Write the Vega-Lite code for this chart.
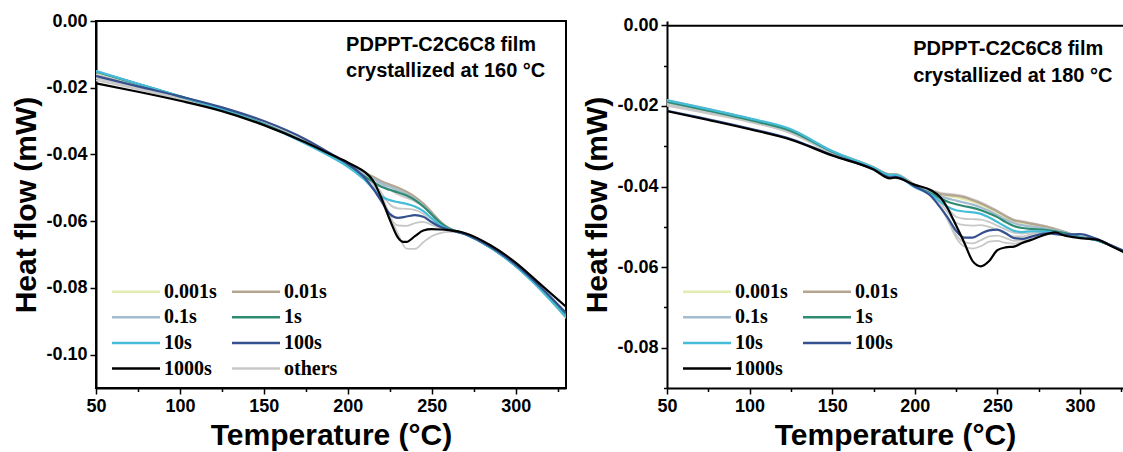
{
"$schema":"https://vega.github.io/schema/vega-lite/v6.json",
"padding":{"left":10,"top":11,"right":0,"bottom":0},
"autosize":{"type":"pad"},
"background":"white",
"config":{"font":"Liberation Sans","view":{"stroke":null},
 "axis":{"domainColor":"black","domainWidth":2,"tickColor":"black","tickWidth":1.5,"labelFont":"Liberation Sans","labelFontWeight":"bold","labelFontSize":18,"labelColor":"black","labelFlush":false,"labelOverlap":false,"titleFont":"Liberation Sans","titleFontWeight":"bold","titleFontSize":30,"titleColor":"black","grid":false,"labelPadding":3}},
"spacing":15,
"resolve":{"scale":{"color":"independent","x":"independent","y":"independent"},"legend":{"color":"independent"}},
"datasets":{
"N":[
{"p":"L","T":199,"H":-0.0073,"t":"PDPPT-C2C6C8 film"},
{"p":"L","T":199,"H":-0.0150,"t":"crystallized at 160 °C"},
{"p":"R","T":199,"H":-0.0058,"t":"PDPPT-C2C6C8 film"},
{"p":"R","T":199,"H":-0.0125,"t":"crystallized at 180 °C"}
],
"L":[
{"s":"others","c":"g1","T":50,"H":-0.0160},{"s":"others","c":"g1","T":75,"H":-0.0195},{"s":"others","c":"g1","T":100,"H":-0.0230},{"s":"others","c":"g1","T":125,"H":-0.0267},{"s":"others","c":"g1","T":150,"H":-0.0310},{"s":"others","c":"g1","T":175,"H":-0.0363},{"s":"others","c":"g1","T":190,"H":-0.0401},{"s":"others","c":"g1","T":200,"H":-0.0428},{"s":"others","c":"g1","T":205,"H":-0.0442},{"s":"others","c":"g1","T":210,"H":-0.0457},{"s":"others","c":"g1","T":215,"H":-0.0472},{"s":"others","c":"g1","T":220,"H":-0.0490},{"s":"others","c":"g1","T":225,"H":-0.0506},{"s":"others","c":"g1","T":230,"H":-0.0520},{"s":"others","c":"g1","T":235,"H":-0.0530},{"s":"others","c":"g1","T":240,"H":-0.0541},{"s":"others","c":"g1","T":245,"H":-0.0557},{"s":"others","c":"g1","T":250,"H":-0.0581},{"s":"others","c":"g1","T":255,"H":-0.0605},{"s":"others","c":"g1","T":260,"H":-0.0622},{"s":"others","c":"g1","T":270,"H":-0.0638},{"s":"others","c":"g1","T":285,"H":-0.0679},{"s":"others","c":"g1","T":300,"H":-0.0734},{"s":"others","c":"g1","T":315,"H":-0.0805},{"s":"others","c":"g1","T":330,"H":-0.0887},
{"s":"others","c":"g2","T":50,"H":-0.0168},{"s":"others","c":"g2","T":75,"H":-0.0200},{"s":"others","c":"g2","T":100,"H":-0.0233},{"s":"others","c":"g2","T":125,"H":-0.0268},{"s":"others","c":"g2","T":150,"H":-0.0310},{"s":"others","c":"g2","T":175,"H":-0.0363},{"s":"others","c":"g2","T":190,"H":-0.0401},{"s":"others","c":"g2","T":200,"H":-0.0428},{"s":"others","c":"g2","T":205,"H":-0.0443},{"s":"others","c":"g2","T":210,"H":-0.0460},{"s":"others","c":"g2","T":215,"H":-0.0482},{"s":"others","c":"g2","T":220,"H":-0.0515},{"s":"others","c":"g2","T":225,"H":-0.0550},{"s":"others","c":"g2","T":230,"H":-0.0562},{"s":"others","c":"g2","T":235,"H":-0.0563},{"s":"others","c":"g2","T":240,"H":-0.0566},{"s":"others","c":"g2","T":245,"H":-0.0578},{"s":"others","c":"g2","T":250,"H":-0.0598},{"s":"others","c":"g2","T":255,"H":-0.0614},{"s":"others","c":"g2","T":260,"H":-0.0624},{"s":"others","c":"g2","T":270,"H":-0.0639},{"s":"others","c":"g2","T":285,"H":-0.0679},{"s":"others","c":"g2","T":300,"H":-0.0734},{"s":"others","c":"g2","T":315,"H":-0.0805},{"s":"others","c":"g2","T":330,"H":-0.0887},
{"s":"others","c":"g3","T":50,"H":-0.0172},{"s":"others","c":"g3","T":75,"H":-0.0202},{"s":"others","c":"g3","T":100,"H":-0.0234},{"s":"others","c":"g3","T":125,"H":-0.0268},{"s":"others","c":"g3","T":150,"H":-0.0311},{"s":"others","c":"g3","T":175,"H":-0.0364},{"s":"others","c":"g3","T":190,"H":-0.0401},{"s":"others","c":"g3","T":200,"H":-0.0427},{"s":"others","c":"g3","T":205,"H":-0.0442},{"s":"others","c":"g3","T":210,"H":-0.0462},{"s":"others","c":"g3","T":215,"H":-0.0490},{"s":"others","c":"g3","T":220,"H":-0.0540},{"s":"others","c":"g3","T":225,"H":-0.0590},{"s":"others","c":"g3","T":230,"H":-0.0613},{"s":"others","c":"g3","T":235,"H":-0.0614},{"s":"others","c":"g3","T":240,"H":-0.0606},{"s":"others","c":"g3","T":245,"H":-0.0602},{"s":"others","c":"g3","T":250,"H":-0.0611},{"s":"others","c":"g3","T":255,"H":-0.0620},{"s":"others","c":"g3","T":260,"H":-0.0626},{"s":"others","c":"g3","T":270,"H":-0.0639},{"s":"others","c":"g3","T":285,"H":-0.0679},{"s":"others","c":"g3","T":300,"H":-0.0734},{"s":"others","c":"g3","T":315,"H":-0.0805},{"s":"others","c":"g3","T":330,"H":-0.0887},
{"s":"others","c":"g4","T":50,"H":-0.0178},{"s":"others","c":"g4","T":75,"H":-0.0205},{"s":"others","c":"g4","T":100,"H":-0.0235},{"s":"others","c":"g4","T":125,"H":-0.0269},{"s":"others","c":"g4","T":150,"H":-0.0311},{"s":"others","c":"g4","T":175,"H":-0.0364},{"s":"others","c":"g4","T":190,"H":-0.0401},{"s":"others","c":"g4","T":200,"H":-0.0426},{"s":"others","c":"g4","T":205,"H":-0.0439},{"s":"others","c":"g4","T":210,"H":-0.0454},{"s":"others","c":"g4","T":215,"H":-0.0478},{"s":"others","c":"g4","T":220,"H":-0.0522},{"s":"others","c":"g4","T":225,"H":-0.0582},{"s":"others","c":"g4","T":230,"H":-0.0640},{"s":"others","c":"g4","T":235,"H":-0.0682},{"s":"others","c":"g4","T":240,"H":-0.0683},{"s":"others","c":"g4","T":245,"H":-0.0663},{"s":"others","c":"g4","T":250,"H":-0.0645},{"s":"others","c":"g4","T":255,"H":-0.0636},{"s":"others","c":"g4","T":260,"H":-0.0632},{"s":"others","c":"g4","T":270,"H":-0.0639},{"s":"others","c":"g4","T":285,"H":-0.0679},{"s":"others","c":"g4","T":300,"H":-0.0734},{"s":"others","c":"g4","T":315,"H":-0.0804},{"s":"others","c":"g4","T":330,"H":-0.0886},
{"s":"0.001s","c":"0.001s","T":50,"H":-0.0153},{"s":"0.001s","c":"0.001s","T":75,"H":-0.0190},{"s":"0.001s","c":"0.001s","T":100,"H":-0.0227},{"s":"0.001s","c":"0.001s","T":125,"H":-0.0265},{"s":"0.001s","c":"0.001s","T":150,"H":-0.0308},{"s":"0.001s","c":"0.001s","T":175,"H":-0.0362},{"s":"0.001s","c":"0.001s","T":190,"H":-0.0400},{"s":"0.001s","c":"0.001s","T":200,"H":-0.0427},{"s":"0.001s","c":"0.001s","T":205,"H":-0.0441},{"s":"0.001s","c":"0.001s","T":210,"H":-0.0455},{"s":"0.001s","c":"0.001s","T":215,"H":-0.0469},{"s":"0.001s","c":"0.001s","T":220,"H":-0.0482},{"s":"0.001s","c":"0.001s","T":225,"H":-0.0493},{"s":"0.001s","c":"0.001s","T":230,"H":-0.0503},{"s":"0.001s","c":"0.001s","T":235,"H":-0.0515},{"s":"0.001s","c":"0.001s","T":240,"H":-0.0530},{"s":"0.001s","c":"0.001s","T":245,"H":-0.0550},{"s":"0.001s","c":"0.001s","T":250,"H":-0.0576},{"s":"0.001s","c":"0.001s","T":255,"H":-0.0602},{"s":"0.001s","c":"0.001s","T":260,"H":-0.0620},{"s":"0.001s","c":"0.001s","T":270,"H":-0.0638},{"s":"0.001s","c":"0.001s","T":285,"H":-0.0678},{"s":"0.001s","c":"0.001s","T":300,"H":-0.0733},{"s":"0.001s","c":"0.001s","T":315,"H":-0.0806},{"s":"0.001s","c":"0.001s","T":330,"H":-0.0890},
{"s":"0.01s","c":"0.01s","T":50,"H":-0.0152},{"s":"0.01s","c":"0.01s","T":75,"H":-0.0189},{"s":"0.01s","c":"0.01s","T":100,"H":-0.0227},{"s":"0.01s","c":"0.01s","T":125,"H":-0.0265},{"s":"0.01s","c":"0.01s","T":150,"H":-0.0308},{"s":"0.01s","c":"0.01s","T":175,"H":-0.0362},{"s":"0.01s","c":"0.01s","T":190,"H":-0.0400},{"s":"0.01s","c":"0.01s","T":200,"H":-0.0427},{"s":"0.01s","c":"0.01s","T":205,"H":-0.0441},{"s":"0.01s","c":"0.01s","T":210,"H":-0.0454},{"s":"0.01s","c":"0.01s","T":215,"H":-0.0467},{"s":"0.01s","c":"0.01s","T":220,"H":-0.0480},{"s":"0.01s","c":"0.01s","T":225,"H":-0.0490},{"s":"0.01s","c":"0.01s","T":230,"H":-0.0500},{"s":"0.01s","c":"0.01s","T":235,"H":-0.0512},{"s":"0.01s","c":"0.01s","T":240,"H":-0.0527},{"s":"0.01s","c":"0.01s","T":245,"H":-0.0547},{"s":"0.01s","c":"0.01s","T":250,"H":-0.0573},{"s":"0.01s","c":"0.01s","T":255,"H":-0.0600},{"s":"0.01s","c":"0.01s","T":260,"H":-0.0620},{"s":"0.01s","c":"0.01s","T":270,"H":-0.0638},{"s":"0.01s","c":"0.01s","T":285,"H":-0.0678},{"s":"0.01s","c":"0.01s","T":300,"H":-0.0732},{"s":"0.01s","c":"0.01s","T":315,"H":-0.0801},{"s":"0.01s","c":"0.01s","T":330,"H":-0.0880},
{"s":"0.1s","c":"0.1s","T":50,"H":-0.0150},{"s":"0.1s","c":"0.1s","T":75,"H":-0.0188},{"s":"0.1s","c":"0.1s","T":100,"H":-0.0226},{"s":"0.1s","c":"0.1s","T":125,"H":-0.0265},{"s":"0.1s","c":"0.1s","T":150,"H":-0.0309},{"s":"0.1s","c":"0.1s","T":175,"H":-0.0363},{"s":"0.1s","c":"0.1s","T":190,"H":-0.0402},{"s":"0.1s","c":"0.1s","T":200,"H":-0.0429},{"s":"0.1s","c":"0.1s","T":205,"H":-0.0443},{"s":"0.1s","c":"0.1s","T":210,"H":-0.0457},{"s":"0.1s","c":"0.1s","T":215,"H":-0.0472},{"s":"0.1s","c":"0.1s","T":220,"H":-0.0486},{"s":"0.1s","c":"0.1s","T":225,"H":-0.0497},{"s":"0.1s","c":"0.1s","T":230,"H":-0.0507},{"s":"0.1s","c":"0.1s","T":235,"H":-0.0519},{"s":"0.1s","c":"0.1s","T":240,"H":-0.0534},{"s":"0.1s","c":"0.1s","T":245,"H":-0.0553},{"s":"0.1s","c":"0.1s","T":250,"H":-0.0579},{"s":"0.1s","c":"0.1s","T":255,"H":-0.0604},{"s":"0.1s","c":"0.1s","T":260,"H":-0.0621},{"s":"0.1s","c":"0.1s","T":270,"H":-0.0638},{"s":"0.1s","c":"0.1s","T":285,"H":-0.0678},{"s":"0.1s","c":"0.1s","T":300,"H":-0.0734},{"s":"0.1s","c":"0.1s","T":315,"H":-0.0804},{"s":"0.1s","c":"0.1s","T":330,"H":-0.0887},
{"s":"1s","c":"1s","T":50,"H":-0.0152},{"s":"1s","c":"1s","T":75,"H":-0.0189},{"s":"1s","c":"1s","T":100,"H":-0.0226},{"s":"1s","c":"1s","T":125,"H":-0.0264},{"s":"1s","c":"1s","T":150,"H":-0.0309},{"s":"1s","c":"1s","T":175,"H":-0.0366},{"s":"1s","c":"1s","T":190,"H":-0.0405},{"s":"1s","c":"1s","T":200,"H":-0.0433},{"s":"1s","c":"1s","T":205,"H":-0.0450},{"s":"1s","c":"1s","T":210,"H":-0.0466},{"s":"1s","c":"1s","T":215,"H":-0.0482},{"s":"1s","c":"1s","T":220,"H":-0.0497},{"s":"1s","c":"1s","T":225,"H":-0.0506},{"s":"1s","c":"1s","T":230,"H":-0.0514},{"s":"1s","c":"1s","T":235,"H":-0.0523},{"s":"1s","c":"1s","T":240,"H":-0.0537},{"s":"1s","c":"1s","T":245,"H":-0.0556},{"s":"1s","c":"1s","T":250,"H":-0.0580},{"s":"1s","c":"1s","T":255,"H":-0.0604},{"s":"1s","c":"1s","T":260,"H":-0.0621},{"s":"1s","c":"1s","T":270,"H":-0.0639},{"s":"1s","c":"1s","T":285,"H":-0.0679},{"s":"1s","c":"1s","T":300,"H":-0.0734},{"s":"1s","c":"1s","T":315,"H":-0.0804},{"s":"1s","c":"1s","T":330,"H":-0.0884},
{"s":"10s","c":"10s","T":50,"H":-0.0150},{"s":"10s","c":"10s","T":75,"H":-0.0188},{"s":"10s","c":"10s","T":100,"H":-0.0226},{"s":"10s","c":"10s","T":125,"H":-0.0265},{"s":"10s","c":"10s","T":150,"H":-0.0310},{"s":"10s","c":"10s","T":175,"H":-0.0368},{"s":"10s","c":"10s","T":190,"H":-0.0407},{"s":"10s","c":"10s","T":200,"H":-0.0437},{"s":"10s","c":"10s","T":205,"H":-0.0455},{"s":"10s","c":"10s","T":210,"H":-0.0476},{"s":"10s","c":"10s","T":215,"H":-0.0502},{"s":"10s","c":"10s","T":220,"H":-0.0526},{"s":"10s","c":"10s","T":225,"H":-0.0537},{"s":"10s","c":"10s","T":230,"H":-0.0543},{"s":"10s","c":"10s","T":235,"H":-0.0548},{"s":"10s","c":"10s","T":240,"H":-0.0556},{"s":"10s","c":"10s","T":245,"H":-0.0570},{"s":"10s","c":"10s","T":250,"H":-0.0591},{"s":"10s","c":"10s","T":255,"H":-0.0612},{"s":"10s","c":"10s","T":260,"H":-0.0624},{"s":"10s","c":"10s","T":270,"H":-0.0639},{"s":"10s","c":"10s","T":285,"H":-0.0679},{"s":"10s","c":"10s","T":300,"H":-0.0735},{"s":"10s","c":"10s","T":315,"H":-0.0806},{"s":"10s","c":"10s","T":330,"H":-0.0888},
{"s":"100s","c":"100s","T":50,"H":-0.0165},{"s":"100s","c":"100s","T":75,"H":-0.0196},{"s":"100s","c":"100s","T":100,"H":-0.0226},{"s":"100s","c":"100s","T":125,"H":-0.0259},{"s":"100s","c":"100s","T":150,"H":-0.0300},{"s":"100s","c":"100s","T":175,"H":-0.0355},{"s":"100s","c":"100s","T":190,"H":-0.0398},{"s":"100s","c":"100s","T":200,"H":-0.0428},{"s":"100s","c":"100s","T":205,"H":-0.0446},{"s":"100s","c":"100s","T":210,"H":-0.0470},{"s":"100s","c":"100s","T":215,"H":-0.0502},{"s":"100s","c":"100s","T":220,"H":-0.0540},{"s":"100s","c":"100s","T":225,"H":-0.0578},{"s":"100s","c":"100s","T":230,"H":-0.0590},{"s":"100s","c":"100s","T":235,"H":-0.0586},{"s":"100s","c":"100s","T":240,"H":-0.0582},{"s":"100s","c":"100s","T":245,"H":-0.0587},{"s":"100s","c":"100s","T":250,"H":-0.0603},{"s":"100s","c":"100s","T":255,"H":-0.0617},{"s":"100s","c":"100s","T":260,"H":-0.0625},{"s":"100s","c":"100s","T":270,"H":-0.0639},{"s":"100s","c":"100s","T":285,"H":-0.0677},{"s":"100s","c":"100s","T":300,"H":-0.0730},{"s":"100s","c":"100s","T":315,"H":-0.0798},{"s":"100s","c":"100s","T":330,"H":-0.0875},
{"s":"1000s","c":"1000s","T":50,"H":-0.0187},{"s":"1000s","c":"1000s","T":75,"H":-0.0212},{"s":"1000s","c":"1000s","T":100,"H":-0.0239},{"s":"1000s","c":"1000s","T":125,"H":-0.0270},{"s":"1000s","c":"1000s","T":150,"H":-0.0312},{"s":"1000s","c":"1000s","T":175,"H":-0.0364},{"s":"1000s","c":"1000s","T":190,"H":-0.0400},{"s":"1000s","c":"1000s","T":200,"H":-0.0424},{"s":"1000s","c":"1000s","T":205,"H":-0.0437},{"s":"1000s","c":"1000s","T":210,"H":-0.0452},{"s":"1000s","c":"1000s","T":215,"H":-0.0478},{"s":"1000s","c":"1000s","T":220,"H":-0.0530},{"s":"1000s","c":"1000s","T":225,"H":-0.0595},{"s":"1000s","c":"1000s","T":230,"H":-0.0650},{"s":"1000s","c":"1000s","T":233,"H":-0.0662},{"s":"1000s","c":"1000s","T":235,"H":-0.0662},{"s":"1000s","c":"1000s","T":240,"H":-0.0645},{"s":"1000s","c":"1000s","T":245,"H":-0.0628},{"s":"1000s","c":"1000s","T":250,"H":-0.0624},{"s":"1000s","c":"1000s","T":255,"H":-0.0625},{"s":"1000s","c":"1000s","T":260,"H":-0.0627},{"s":"1000s","c":"1000s","T":270,"H":-0.0636},{"s":"1000s","c":"1000s","T":285,"H":-0.0672},{"s":"1000s","c":"1000s","T":300,"H":-0.0724},{"s":"1000s","c":"1000s","T":315,"H":-0.0790},{"s":"1000s","c":"1000s","T":330,"H":-0.0856}
],
"R":[
{"s":"others","c":"g1","T":50,"H":-0.0185},{"s":"others","c":"g1","T":75,"H":-0.0207},{"s":"others","c":"g1","T":100,"H":-0.0231},{"s":"others","c":"g1","T":125,"H":-0.0261},{"s":"others","c":"g1","T":150,"H":-0.0312},{"s":"others","c":"g1","T":175,"H":-0.0351},{"s":"others","c":"g1","T":185,"H":-0.0370},{"s":"others","c":"g1","T":188,"H":-0.0369},{"s":"others","c":"g1","T":200,"H":-0.0395},{"s":"others","c":"g1","T":210,"H":-0.0408},{"s":"others","c":"g1","T":215,"H":-0.0415},{"s":"others","c":"g1","T":220,"H":-0.0418},{"s":"others","c":"g1","T":225,"H":-0.0420},{"s":"others","c":"g1","T":230,"H":-0.0424},{"s":"others","c":"g1","T":235,"H":-0.0431},{"s":"others","c":"g1","T":240,"H":-0.0439},{"s":"others","c":"g1","T":245,"H":-0.0449},{"s":"others","c":"g1","T":250,"H":-0.0460},{"s":"others","c":"g1","T":255,"H":-0.0472},{"s":"others","c":"g1","T":260,"H":-0.0482},{"s":"others","c":"g1","T":265,"H":-0.0486},{"s":"others","c":"g1","T":270,"H":-0.0490},{"s":"others","c":"g1","T":280,"H":-0.0499},{"s":"others","c":"g1","T":290,"H":-0.0511},{"s":"others","c":"g1","T":300,"H":-0.0524},{"s":"others","c":"g1","T":310,"H":-0.0531},{"s":"others","c":"g1","T":320,"H":-0.0547},{"s":"others","c":"g1","T":330,"H":-0.0567},
{"s":"others","c":"g2","T":50,"H":-0.0190},{"s":"others","c":"g2","T":75,"H":-0.0211},{"s":"others","c":"g2","T":100,"H":-0.0234},{"s":"others","c":"g2","T":125,"H":-0.0264},{"s":"others","c":"g2","T":150,"H":-0.0314},{"s":"others","c":"g2","T":175,"H":-0.0353},{"s":"others","c":"g2","T":185,"H":-0.0371},{"s":"others","c":"g2","T":188,"H":-0.0370},{"s":"others","c":"g2","T":200,"H":-0.0396},{"s":"others","c":"g2","T":210,"H":-0.0418},{"s":"others","c":"g2","T":215,"H":-0.0432},{"s":"others","c":"g2","T":220,"H":-0.0455},{"s":"others","c":"g2","T":225,"H":-0.0475},{"s":"others","c":"g2","T":230,"H":-0.0480},{"s":"others","c":"g2","T":235,"H":-0.0481},{"s":"others","c":"g2","T":240,"H":-0.0482},{"s":"others","c":"g2","T":245,"H":-0.0488},{"s":"others","c":"g2","T":250,"H":-0.0497},{"s":"others","c":"g2","T":255,"H":-0.0507},{"s":"others","c":"g2","T":260,"H":-0.0515},{"s":"others","c":"g2","T":265,"H":-0.0517},{"s":"others","c":"g2","T":270,"H":-0.0515},{"s":"others","c":"g2","T":280,"H":-0.0513},{"s":"others","c":"g2","T":290,"H":-0.0517},{"s":"others","c":"g2","T":300,"H":-0.0526},{"s":"others","c":"g2","T":310,"H":-0.0533},{"s":"others","c":"g2","T":320,"H":-0.0549},{"s":"others","c":"g2","T":330,"H":-0.0569},
{"s":"others","c":"g3","T":50,"H":-0.0193},{"s":"others","c":"g3","T":75,"H":-0.0214},{"s":"others","c":"g3","T":100,"H":-0.0236},{"s":"others","c":"g3","T":125,"H":-0.0265},{"s":"others","c":"g3","T":150,"H":-0.0315},{"s":"others","c":"g3","T":175,"H":-0.0354},{"s":"others","c":"g3","T":185,"H":-0.0372},{"s":"others","c":"g3","T":188,"H":-0.0371},{"s":"others","c":"g3","T":200,"H":-0.0397},{"s":"others","c":"g3","T":210,"H":-0.0420},{"s":"others","c":"g3","T":215,"H":-0.0438},{"s":"others","c":"g3","T":220,"H":-0.0465},{"s":"others","c":"g3","T":225,"H":-0.0490},{"s":"others","c":"g3","T":230,"H":-0.0496},{"s":"others","c":"g3","T":235,"H":-0.0497},{"s":"others","c":"g3","T":240,"H":-0.0496},{"s":"others","c":"g3","T":245,"H":-0.0500},{"s":"others","c":"g3","T":250,"H":-0.0508},{"s":"others","c":"g3","T":255,"H":-0.0517},{"s":"others","c":"g3","T":260,"H":-0.0524},{"s":"others","c":"g3","T":265,"H":-0.0524},{"s":"others","c":"g3","T":270,"H":-0.0519},{"s":"others","c":"g3","T":280,"H":-0.0514},{"s":"others","c":"g3","T":290,"H":-0.0518},{"s":"others","c":"g3","T":300,"H":-0.0526},{"s":"others","c":"g3","T":310,"H":-0.0533},{"s":"others","c":"g3","T":320,"H":-0.0549},{"s":"others","c":"g3","T":330,"H":-0.0569},
{"s":"others","c":"g4","T":50,"H":-0.0197},{"s":"others","c":"g4","T":75,"H":-0.0217},{"s":"others","c":"g4","T":100,"H":-0.0238},{"s":"others","c":"g4","T":125,"H":-0.0267},{"s":"others","c":"g4","T":150,"H":-0.0317},{"s":"others","c":"g4","T":175,"H":-0.0355},{"s":"others","c":"g4","T":185,"H":-0.0373},{"s":"others","c":"g4","T":188,"H":-0.0372},{"s":"others","c":"g4","T":200,"H":-0.0398},{"s":"others","c":"g4","T":210,"H":-0.0422},{"s":"others","c":"g4","T":215,"H":-0.0445},{"s":"others","c":"g4","T":220,"H":-0.0480},{"s":"others","c":"g4","T":225,"H":-0.0520},{"s":"others","c":"g4","T":230,"H":-0.0538},{"s":"others","c":"g4","T":235,"H":-0.0541},{"s":"others","c":"g4","T":240,"H":-0.0533},{"s":"others","c":"g4","T":245,"H":-0.0524},{"s":"others","c":"g4","T":250,"H":-0.0522},{"s":"others","c":"g4","T":255,"H":-0.0528},{"s":"others","c":"g4","T":260,"H":-0.0535},{"s":"others","c":"g4","T":265,"H":-0.0533},{"s":"others","c":"g4","T":270,"H":-0.0525},{"s":"others","c":"g4","T":280,"H":-0.0516},{"s":"others","c":"g4","T":290,"H":-0.0519},{"s":"others","c":"g4","T":300,"H":-0.0527},{"s":"others","c":"g4","T":310,"H":-0.0534},{"s":"others","c":"g4","T":320,"H":-0.0550},{"s":"others","c":"g4","T":330,"H":-0.0570},
{"s":"others","c":"g5","T":50,"H":-0.0200},{"s":"others","c":"g5","T":75,"H":-0.0219},{"s":"others","c":"g5","T":100,"H":-0.0240},{"s":"others","c":"g5","T":125,"H":-0.0268},{"s":"others","c":"g5","T":150,"H":-0.0318},{"s":"others","c":"g5","T":175,"H":-0.0356},{"s":"others","c":"g5","T":185,"H":-0.0374},{"s":"others","c":"g5","T":188,"H":-0.0373},{"s":"others","c":"g5","T":200,"H":-0.0399},{"s":"others","c":"g5","T":210,"H":-0.0423},{"s":"others","c":"g5","T":215,"H":-0.0447},{"s":"others","c":"g5","T":220,"H":-0.0484},{"s":"others","c":"g5","T":225,"H":-0.0527},{"s":"others","c":"g5","T":230,"H":-0.0549},{"s":"others","c":"g5","T":235,"H":-0.0554},{"s":"others","c":"g5","T":240,"H":-0.0548},{"s":"others","c":"g5","T":245,"H":-0.0537},{"s":"others","c":"g5","T":250,"H":-0.0535},{"s":"others","c":"g5","T":255,"H":-0.0540},{"s":"others","c":"g5","T":260,"H":-0.0542},{"s":"others","c":"g5","T":265,"H":-0.0537},{"s":"others","c":"g5","T":270,"H":-0.0528},{"s":"others","c":"g5","T":280,"H":-0.0517},{"s":"others","c":"g5","T":290,"H":-0.0520},{"s":"others","c":"g5","T":300,"H":-0.0527},{"s":"others","c":"g5","T":310,"H":-0.0534},{"s":"others","c":"g5","T":320,"H":-0.0550},{"s":"others","c":"g5","T":330,"H":-0.0570},
{"s":"0.001s","c":"0.001s","T":50,"H":-0.0188},{"s":"0.001s","c":"0.001s","T":75,"H":-0.0210},{"s":"0.001s","c":"0.001s","T":100,"H":-0.0233},{"s":"0.001s","c":"0.001s","T":125,"H":-0.0262},{"s":"0.001s","c":"0.001s","T":150,"H":-0.0313},{"s":"0.001s","c":"0.001s","T":175,"H":-0.0352},{"s":"0.001s","c":"0.001s","T":185,"H":-0.0370},{"s":"0.001s","c":"0.001s","T":188,"H":-0.0369},{"s":"0.001s","c":"0.001s","T":200,"H":-0.0396},{"s":"0.001s","c":"0.001s","T":210,"H":-0.0411},{"s":"0.001s","c":"0.001s","T":215,"H":-0.0420},{"s":"0.001s","c":"0.001s","T":220,"H":-0.0424},{"s":"0.001s","c":"0.001s","T":225,"H":-0.0427},{"s":"0.001s","c":"0.001s","T":230,"H":-0.0432},{"s":"0.001s","c":"0.001s","T":235,"H":-0.0438},{"s":"0.001s","c":"0.001s","T":240,"H":-0.0446},{"s":"0.001s","c":"0.001s","T":245,"H":-0.0455},{"s":"0.001s","c":"0.001s","T":250,"H":-0.0465},{"s":"0.001s","c":"0.001s","T":255,"H":-0.0477},{"s":"0.001s","c":"0.001s","T":260,"H":-0.0487},{"s":"0.001s","c":"0.001s","T":265,"H":-0.0491},{"s":"0.001s","c":"0.001s","T":270,"H":-0.0495},{"s":"0.001s","c":"0.001s","T":280,"H":-0.0501},{"s":"0.001s","c":"0.001s","T":290,"H":-0.0513},{"s":"0.001s","c":"0.001s","T":300,"H":-0.0525},{"s":"0.001s","c":"0.001s","T":310,"H":-0.0532},{"s":"0.001s","c":"0.001s","T":320,"H":-0.0548},{"s":"0.001s","c":"0.001s","T":330,"H":-0.0568},
{"s":"0.01s","c":"0.01s","T":50,"H":-0.0187},{"s":"0.01s","c":"0.01s","T":75,"H":-0.0209},{"s":"0.01s","c":"0.01s","T":100,"H":-0.0232},{"s":"0.01s","c":"0.01s","T":125,"H":-0.0262},{"s":"0.01s","c":"0.01s","T":150,"H":-0.0313},{"s":"0.01s","c":"0.01s","T":175,"H":-0.0352},{"s":"0.01s","c":"0.01s","T":185,"H":-0.0370},{"s":"0.01s","c":"0.01s","T":188,"H":-0.0369},{"s":"0.01s","c":"0.01s","T":200,"H":-0.0395},{"s":"0.01s","c":"0.01s","T":210,"H":-0.0410},{"s":"0.01s","c":"0.01s","T":215,"H":-0.0418},{"s":"0.01s","c":"0.01s","T":220,"H":-0.0421},{"s":"0.01s","c":"0.01s","T":225,"H":-0.0423},{"s":"0.01s","c":"0.01s","T":230,"H":-0.0427},{"s":"0.01s","c":"0.01s","T":235,"H":-0.0434},{"s":"0.01s","c":"0.01s","T":240,"H":-0.0442},{"s":"0.01s","c":"0.01s","T":245,"H":-0.0452},{"s":"0.01s","c":"0.01s","T":250,"H":-0.0462},{"s":"0.01s","c":"0.01s","T":255,"H":-0.0474},{"s":"0.01s","c":"0.01s","T":260,"H":-0.0484},{"s":"0.01s","c":"0.01s","T":265,"H":-0.0488},{"s":"0.01s","c":"0.01s","T":270,"H":-0.0492},{"s":"0.01s","c":"0.01s","T":280,"H":-0.0500},{"s":"0.01s","c":"0.01s","T":290,"H":-0.0512},{"s":"0.01s","c":"0.01s","T":300,"H":-0.0525},{"s":"0.01s","c":"0.01s","T":310,"H":-0.0532},{"s":"0.01s","c":"0.01s","T":320,"H":-0.0548},{"s":"0.01s","c":"0.01s","T":330,"H":-0.0568},
{"s":"0.1s","c":"0.1s","T":50,"H":-0.0189},{"s":"0.1s","c":"0.1s","T":75,"H":-0.0211},{"s":"0.1s","c":"0.1s","T":100,"H":-0.0234},{"s":"0.1s","c":"0.1s","T":125,"H":-0.0263},{"s":"0.1s","c":"0.1s","T":150,"H":-0.0314},{"s":"0.1s","c":"0.1s","T":175,"H":-0.0353},{"s":"0.1s","c":"0.1s","T":185,"H":-0.0371},{"s":"0.1s","c":"0.1s","T":188,"H":-0.0370},{"s":"0.1s","c":"0.1s","T":200,"H":-0.0397},{"s":"0.1s","c":"0.1s","T":210,"H":-0.0413},{"s":"0.1s","c":"0.1s","T":215,"H":-0.0423},{"s":"0.1s","c":"0.1s","T":220,"H":-0.0430},{"s":"0.1s","c":"0.1s","T":225,"H":-0.0435},{"s":"0.1s","c":"0.1s","T":230,"H":-0.0440},{"s":"0.1s","c":"0.1s","T":235,"H":-0.0445},{"s":"0.1s","c":"0.1s","T":240,"H":-0.0452},{"s":"0.1s","c":"0.1s","T":245,"H":-0.0461},{"s":"0.1s","c":"0.1s","T":250,"H":-0.0471},{"s":"0.1s","c":"0.1s","T":255,"H":-0.0482},{"s":"0.1s","c":"0.1s","T":260,"H":-0.0491},{"s":"0.1s","c":"0.1s","T":265,"H":-0.0496},{"s":"0.1s","c":"0.1s","T":270,"H":-0.0499},{"s":"0.1s","c":"0.1s","T":280,"H":-0.0505},{"s":"0.1s","c":"0.1s","T":290,"H":-0.0513},{"s":"0.1s","c":"0.1s","T":300,"H":-0.0525},{"s":"0.1s","c":"0.1s","T":310,"H":-0.0532},{"s":"0.1s","c":"0.1s","T":320,"H":-0.0548},{"s":"0.1s","c":"0.1s","T":330,"H":-0.0568},
{"s":"1s","c":"1s","T":50,"H":-0.0190},{"s":"1s","c":"1s","T":75,"H":-0.0212},{"s":"1s","c":"1s","T":100,"H":-0.0235},{"s":"1s","c":"1s","T":125,"H":-0.0262},{"s":"1s","c":"1s","T":150,"H":-0.0314},{"s":"1s","c":"1s","T":175,"H":-0.0354},{"s":"1s","c":"1s","T":185,"H":-0.0372},{"s":"1s","c":"1s","T":188,"H":-0.0372},{"s":"1s","c":"1s","T":200,"H":-0.0400},{"s":"1s","c":"1s","T":210,"H":-0.0418},{"s":"1s","c":"1s","T":215,"H":-0.0428},{"s":"1s","c":"1s","T":220,"H":-0.0438},{"s":"1s","c":"1s","T":225,"H":-0.0444},{"s":"1s","c":"1s","T":230,"H":-0.0449},{"s":"1s","c":"1s","T":235,"H":-0.0453},{"s":"1s","c":"1s","T":240,"H":-0.0459},{"s":"1s","c":"1s","T":245,"H":-0.0467},{"s":"1s","c":"1s","T":250,"H":-0.0476},{"s":"1s","c":"1s","T":255,"H":-0.0488},{"s":"1s","c":"1s","T":260,"H":-0.0498},{"s":"1s","c":"1s","T":265,"H":-0.0503},{"s":"1s","c":"1s","T":270,"H":-0.0505},{"s":"1s","c":"1s","T":280,"H":-0.0508},{"s":"1s","c":"1s","T":290,"H":-0.0515},{"s":"1s","c":"1s","T":300,"H":-0.0526},{"s":"1s","c":"1s","T":310,"H":-0.0533},{"s":"1s","c":"1s","T":320,"H":-0.0549},{"s":"1s","c":"1s","T":330,"H":-0.0569},
{"s":"10s","c":"10s","T":50,"H":-0.0186},{"s":"10s","c":"10s","T":75,"H":-0.0208},{"s":"10s","c":"10s","T":100,"H":-0.0231},{"s":"10s","c":"10s","T":125,"H":-0.0258},{"s":"10s","c":"10s","T":150,"H":-0.0312},{"s":"10s","c":"10s","T":175,"H":-0.0353},{"s":"10s","c":"10s","T":185,"H":-0.0372},{"s":"10s","c":"10s","T":188,"H":-0.0371},{"s":"10s","c":"10s","T":200,"H":-0.0402},{"s":"10s","c":"10s","T":210,"H":-0.0421},{"s":"10s","c":"10s","T":215,"H":-0.0436},{"s":"10s","c":"10s","T":220,"H":-0.0451},{"s":"10s","c":"10s","T":225,"H":-0.0459},{"s":"10s","c":"10s","T":230,"H":-0.0462},{"s":"10s","c":"10s","T":235,"H":-0.0464},{"s":"10s","c":"10s","T":240,"H":-0.0468},{"s":"10s","c":"10s","T":245,"H":-0.0477},{"s":"10s","c":"10s","T":250,"H":-0.0488},{"s":"10s","c":"10s","T":255,"H":-0.0500},{"s":"10s","c":"10s","T":260,"H":-0.0510},{"s":"10s","c":"10s","T":265,"H":-0.0513},{"s":"10s","c":"10s","T":270,"H":-0.0511},{"s":"10s","c":"10s","T":280,"H":-0.0512},{"s":"10s","c":"10s","T":290,"H":-0.0519},{"s":"10s","c":"10s","T":300,"H":-0.0526},{"s":"10s","c":"10s","T":310,"H":-0.0533},{"s":"10s","c":"10s","T":320,"H":-0.0549},{"s":"10s","c":"10s","T":330,"H":-0.0569},
{"s":"100s","c":"100s","T":50,"H":-0.0212},{"s":"100s","c":"100s","T":75,"H":-0.0233},{"s":"100s","c":"100s","T":100,"H":-0.0256},{"s":"100s","c":"100s","T":125,"H":-0.0282},{"s":"100s","c":"100s","T":150,"H":-0.0322},{"s":"100s","c":"100s","T":175,"H":-0.0357},{"s":"100s","c":"100s","T":185,"H":-0.0377},{"s":"100s","c":"100s","T":188,"H":-0.0376},{"s":"100s","c":"100s","T":200,"H":-0.0400},{"s":"100s","c":"100s","T":210,"H":-0.0425},{"s":"100s","c":"100s","T":215,"H":-0.0450},{"s":"100s","c":"100s","T":220,"H":-0.0478},{"s":"100s","c":"100s","T":225,"H":-0.0510},{"s":"100s","c":"100s","T":230,"H":-0.0527},{"s":"100s","c":"100s","T":235,"H":-0.0527},{"s":"100s","c":"100s","T":240,"H":-0.0517},{"s":"100s","c":"100s","T":245,"H":-0.0509},{"s":"100s","c":"100s","T":250,"H":-0.0507},{"s":"100s","c":"100s","T":255,"H":-0.0516},{"s":"100s","c":"100s","T":260,"H":-0.0528},{"s":"100s","c":"100s","T":265,"H":-0.0530},{"s":"100s","c":"100s","T":270,"H":-0.0525},{"s":"100s","c":"100s","T":280,"H":-0.0516},{"s":"100s","c":"100s","T":290,"H":-0.0520},{"s":"100s","c":"100s","T":300,"H":-0.0518},{"s":"100s","c":"100s","T":310,"H":-0.0530},{"s":"100s","c":"100s","T":320,"H":-0.0548},{"s":"100s","c":"100s","T":330,"H":-0.0566},
{"s":"1000s","c":"1000s","T":50,"H":-0.0213},{"s":"1000s","c":"1000s","T":75,"H":-0.0235},{"s":"1000s","c":"1000s","T":100,"H":-0.0258},{"s":"1000s","c":"1000s","T":125,"H":-0.0284},{"s":"1000s","c":"1000s","T":150,"H":-0.0323},{"s":"1000s","c":"1000s","T":175,"H":-0.0358},{"s":"1000s","c":"1000s","T":185,"H":-0.0380},{"s":"1000s","c":"1000s","T":188,"H":-0.0378},{"s":"1000s","c":"1000s","T":200,"H":-0.0396},{"s":"1000s","c":"1000s","T":210,"H":-0.0410},{"s":"1000s","c":"1000s","T":215,"H":-0.0425},{"s":"1000s","c":"1000s","T":220,"H":-0.0455},{"s":"1000s","c":"1000s","T":225,"H":-0.0497},{"s":"1000s","c":"1000s","T":230,"H":-0.0540},{"s":"1000s","c":"1000s","T":235,"H":-0.0585},{"s":"1000s","c":"1000s","T":240,"H":-0.0598},{"s":"1000s","c":"1000s","T":245,"H":-0.0585},{"s":"1000s","c":"1000s","T":250,"H":-0.0558},{"s":"1000s","c":"1000s","T":255,"H":-0.0551},{"s":"1000s","c":"1000s","T":260,"H":-0.0549},{"s":"1000s","c":"1000s","T":265,"H":-0.0540},{"s":"1000s","c":"1000s","T":270,"H":-0.0533},{"s":"1000s","c":"1000s","T":280,"H":-0.0518},{"s":"1000s","c":"1000s","T":285,"H":-0.0514},{"s":"1000s","c":"1000s","T":290,"H":-0.0521},{"s":"1000s","c":"1000s","T":300,"H":-0.0528},{"s":"1000s","c":"1000s","T":310,"H":-0.0532},{"s":"1000s","c":"1000s","T":320,"H":-0.0550},{"s":"1000s","c":"1000s","T":330,"H":-0.0570}
]
},
"hconcat":[
{
 "width":470,"height":367,
 "view":{"stroke":"black","strokeWidth":2},
 "layer":[
  {"data":{"name":"L"},"transform":[{"filter":"datum.s == 'others'"}],
   "mark":{"type":"line","interpolate":"monotone","strokeWidth":1.8,"clip":true},
   "encoding":{
    "x":{"field":"T","type":"quantitative","scale":{"domain":[50,330],"nice":false,"zero":false}},
    "y":{"field":"H","type":"quantitative","scale":{"domain":[-0.11,0],"nice":false,"zero":false}},
    "color":{"field":"s","type":"nominal","scale":{"domain":["0.001s","0.01s","0.1s","1s","10s","100s","1000s","others"],"range":["#e4ebb0","#b5a48f","#a3bcd0","#2f8a72","#45bcd8","#34508f","#000000","#c8c8c8"]}},
    "detail":{"field":"c"}}},
  {"data":{"name":"L"},"transform":[{"filter":"datum.s != 'others'"}],
   "mark":{"type":"line","interpolate":"monotone","strokeWidth":2.2,"clip":true},
   "encoding":{
    "x":{"field":"T","type":"quantitative","scale":{"domain":[50,330],"nice":false,"zero":false},
     "axis":{"orient":"bottom","title":"Temperature (°C)","values":[50,75,100,125,150,175,200,225,250,275,300,325],"labelExpr":"datum.value % 50 == 0 ? datum.label : ''","tickSize":{"condition":{"test":"datum.value % 50 == 0","value":6},"value":3.5},"titlePadding":5}},
    "y":{"field":"H","type":"quantitative","scale":{"domain":[-0.11,0],"nice":false,"zero":false},
     "axis":{"title":"Heat flow (mW)","values":[-0.1,-0.09,-0.08,-0.07,-0.06,-0.05,-0.04,-0.03,-0.02,-0.01,0],"labelExpr":"round(datum.value*100) % 2 == 0 ? replace(format(datum.value, '.2f'), '−', '-') : ''","tickSize":{"condition":{"test":"round(datum.value*100) % 2 == 0","value":6},"value":3.5},"titlePadding":4}},
    "color":{"field":"s","type":"nominal","scale":{"domain":["0.001s","0.01s","0.1s","1s","10s","100s","1000s","others"],"range":["#e4ebb0","#b5a48f","#a3bcd0","#2f8a72","#45bcd8","#34508f","#000000","#c8c8c8"]},
     "legend":{"orient":"none","legendX":16,"legendY":260,"columns":2,"title":null,"symbolType":"M-1.1667,0H4.1667","symbolSize":324,"symbolStrokeWidth":2.5,"labelFont":"Liberation Serif","labelFontWeight":"bold","labelFontSize":20,"labelColor":"black","labelOffset":31,"rowPadding":4.7,"columnPadding":9,"padding":0,"values":["0.001s","0.1s","10s","1000s","0.01s","1s","100s","others"]}},
    "detail":{"field":"c"}}},
  {"data":{"name":"N"},"transform":[{"filter":"datum.p == 'L'"}],
   "mark":{"type":"text","align":"left","baseline":"middle","font":"Liberation Sans","fontWeight":"bold","fontSize":20,"color":"black"},
   "encoding":{
    "x":{"field":"T","type":"quantitative","scale":{"domain":[50,330],"nice":false,"zero":false}},
    "y":{"field":"H","type":"quantitative","scale":{"domain":[-0.11,0],"nice":false,"zero":false}},
    "text":{"field":"t"}}}
 ]
},
{
 "width":456,"height":367,
 "layer":[
  {"layer":[
   {"data":{"name":"R"},"transform":[{"filter":"datum.s == 'others'"}],
    "mark":{"type":"line","interpolate":"monotone","strokeWidth":1.8,"clip":true},
    "encoding":{
     "x":{"field":"T","type":"quantitative","scale":{"domain":[50,326],"nice":false,"zero":false}},
     "y":{"field":"H","type":"quantitative","scale":{"domain":[-0.09,0.00107],"nice":false,"zero":false}},
     "color":{"field":"s","type":"nominal","scale":{"domain":["0.001s","0.01s","0.1s","1s","10s","100s","1000s","others"],"range":["#e4ebb0","#b5a48f","#a3bcd0","#2f8a72","#45bcd8","#34508f","#000000","#c8c8c8"]}},
     "detail":{"field":"c"}}},
   {"data":{"name":"R"},"transform":[{"filter":"datum.s != 'others'"}],
    "mark":{"type":"line","interpolate":"monotone","strokeWidth":2.2,"clip":true},
    "encoding":{
     "x":{"field":"T","type":"quantitative","scale":{"domain":[50,326],"nice":false,"zero":false},
      "axis":{"orient":"bottom","title":"Temperature (°C)","values":[50,75,100,125,150,175,200,225,250,275,300,325],"labelExpr":"datum.value % 50 == 0 ? datum.label : ''","tickSize":{"condition":{"test":"datum.value % 50 == 0","value":6},"value":3.5},"titlePadding":5,"labels":true,"ticks":true,"domain":true,"offset":0}},
     "y":{"field":"H","type":"quantitative","scale":{"domain":[-0.09,0.00107],"nice":false,"zero":false},
      "axis":{"title":"Heat flow (mW)","values":[-0.09,-0.08,-0.07,-0.06,-0.05,-0.04,-0.03,-0.02,-0.01,0],"labelExpr":"round(datum.value*100) % 2 == 0 ? replace(format(datum.value, '.2f'), '−', '-') : ''","tickSize":{"condition":{"test":"round(datum.value*100) % 2 == 0","value":6},"value":3.5},"titlePadding":4}},
     "color":{"field":"s","type":"nominal","scale":{"domain":["0.001s","0.01s","0.1s","1s","10s","100s","1000s","others"],"range":["#e4ebb0","#b5a48f","#a3bcd0","#2f8a72","#45bcd8","#34508f","#000000","#c8c8c8"]},
      "legend":{"orient":"none","legendX":16,"legendY":260,"columns":2,"title":null,"symbolType":"M-1.1667,0H4.1667","symbolSize":324,"symbolStrokeWidth":2.5,"labelFont":"Liberation Serif","labelFontWeight":"bold","labelFontSize":20,"labelColor":"black","labelOffset":31,"rowPadding":4.7,"columnPadding":9,"padding":0,"values":["0.001s","0.1s","10s","1000s","0.01s","1s","100s"]}},
     "detail":{"field":"c"}}}
  ]},
  {"data":{"name":"N"},"transform":[{"filter":"datum.p == 'R'"}],
   "mark":{"type":"text","align":"left","baseline":"middle","font":"Liberation Sans","fontWeight":"bold","fontSize":20,"color":"black"},
   "encoding":{
    "x":{"field":"T","type":"quantitative","scale":{"domain":[50,326],"nice":false,"zero":false},"axis":{"orient":"top","labels":false,"ticks":false,"title":null,"domain":true,"offset":-4.3,"grid":false}},
    "y":{"field":"H","type":"quantitative","scale":{"domain":[-0.09,0.00107],"nice":false,"zero":false}},
    "text":{"field":"t"}}}
 ]
}
]
}
